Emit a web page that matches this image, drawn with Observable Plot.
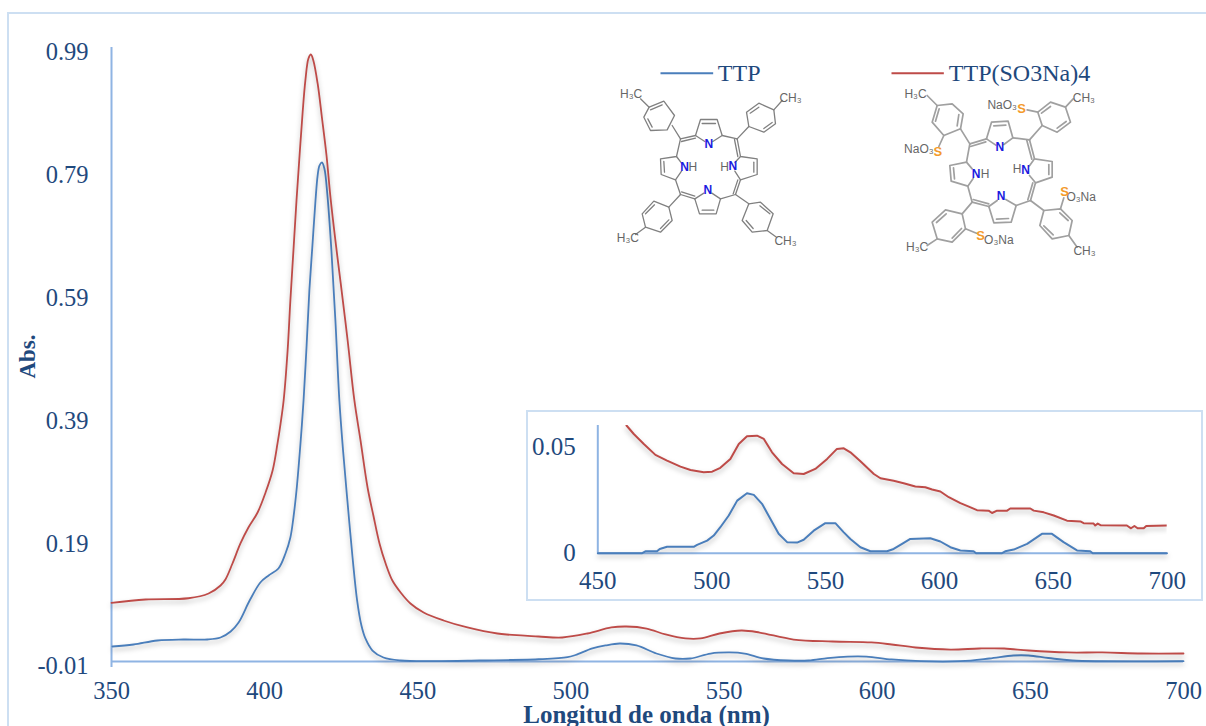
<!DOCTYPE html>
<html>
<head>
<meta charset="utf-8">
<script src="https://cdn.jsdelivr.net/npm/d3@7"></script>
<script src="https://cdn.jsdelivr.net/npm/@observablehq/plot@0.6"></script>
<style>
html,body{margin:0;padding:0;background:#fff}
#page{position:relative;width:1206px;height:726px;overflow:hidden;background:#fff}
#page svg{position:absolute;background:transparent;overflow:visible}
.outer{position:absolute;left:7px;top:12px;width:1300px;height:800px;border:2px solid #CDDFF2;box-sizing:border-box}
.inset{position:absolute;left:526px;top:410px;width:677px;height:191px;border:2px solid #CDDFF2;box-sizing:border-box;background:#fff}
</style>
</head>
<body>
<div id="page"><div class="outer"></div><div class="inset"></div></div>
<script>
const xTicks = [350,400,450,500,550,600,650,700];
const yTicks = [-0.01,0.19,0.39,0.59,0.79,0.99];
const insetXTicks = [450,500,550,600,650,700];
const insetYTicks = [0,0.05];

const redWl = [350,361.1,375.1,381.7,385.6,387.2,389.5,392.1,394.7,397.7,400.3,402.6,404.2,405.2,406.2,407.5,408.4,409.4,410.4,411.4,412.4,413.3,414.3,415.1,415.9,417.3,418.7,420.2,421.5,423.1,424.8,427.1,429.3,431.3,433.6,435.5,437.5,439.5,441.7,444.4,447.6,451.9,458.4,466.2,476,489.4,497.2,505.4,513.2,518.1,524.7,530.9,537.4,542.3,548.5,555.7,561.6,572.7,585.4,598.1,604.7,612.5,623.9,633.4,641.5,649.4,662.1,673.5,686.3,700];
const redAbs = [.0856,.091,.093,.1007,.1138,.1236,.1496,.1822,.2082,.2327,.2653,.3011,.3451,.3776,.4151,.4965,.578,.6594,.7408,.8141,.8842,.9363,.9721,.9786,.9688,.9314,.876,.8141,.7457,.6757,.6073,.5128,.4151,.35,.2734,.2278,.1822,.1496,.1219,.1024,.0845,.0698,.0568,.0454,.0356,.0307,.0291,.0356,.0454,.047,.0437,.034,.0275,.0275,.0356,.0405,.0372,.0258,.0226,.021,.0177,.0128,.0095,.0112,.0112,.0079,.0047,.0047,.003,.003];
const blueWl = [350.3,357.2,365,373.5,381.3,385.6,388.9,391.5,395.1,398.6,401.3,404.5,406.8,408.4,409.4,410.4,411.7,412.7,413.7,414.6,415.6,416.6,417.3,417.9,418.7,419.5,420.5,421.8,423.1,424.4,425.6,427.1,428.7,430.2,431.6,432.9,435.2,438.8,444.4,455.1,470.1,489.4,498.9,501.5,507,511.3,515.9,521.4,527.9,534.1,539,545.6,551.8,556.7,562.9,571,577.6,583.8,590.3,596.5,604.7,614.1,627.2,636.6,644.5,649.4,655.9,663.7,700];
const blueAbs = [.0144,.0177,.0242,.0258,.0258,.0291,.0389,.0535,.0893,.1187,.1301,.1415,.1659,.192,.2245,.2685,.3451,.4151,.5047,.5942,.6675,.7408,.7815,.7978,.8027,.793,.749,.6594,.5454,.4151,.3337,.2473,.1594,.0893,.0486,.0275,.0079,-.0035,-.0084,-.0095,-.0084,-.0063,-.003,.0006,.0112,.0161,.0193,.0161,.003,-.0051,-.0051,.003,.0047,.003,-.0051,-.0084,-.0084,-.0045,-.0019,-.0019,-.0067,-.0095,-.0095,-.0051,-.0002,-.0002,-.0043,-.0084,-.0095];

const insetRedWl = [462.6,465.8,470.2,475.3,480.4,486.3,490.7,496.5,500.2,503.8,508.2,511.9,515.5,519.9,522.9,526.5,530.9,536,540.4,545.5,550.7,555,558,560.9,565.3,571.2,574.1,579.9,584.3,589.4,593.8,596.8,600.4,604.1,609.2,612.9,616.5,621.6,623.1,625.3,629.7,631.1,639.9,641.4,645.8,650.2,656,661.9,663.3,667.7,668.4,669.5,670.9,682.3,684.1,685.6,687,689.7,690.8,699.9];
const insetRedAbs = [.06,.056,.0513,.0462,.0435,.0407,.0391,.038,.0383,.0401,.0443,.0513,.0549,.0552,.0537,.0474,.0419,.0376,.0372,.0396,.0443,.049,.0493,.0474,.0432,.0372,.0352,.034,.0329,.0313,.031,.0299,.029,.0263,.0235,.0219,.0202,.02,.0189,.02,.02,.021,.021,.02,.0192,.0177,.0153,.0149,.0141,.0139,.013,.0139,.0131,.013,.0117,.0128,.0117,.0117,.0128,.013];
const insetBlueWl = [450,469.5,470.9,476,477.2,480.4,492.1,493.6,498,500.9,503.8,507.5,511.2,515.5,518.5,522.1,525.8,529.4,533.1,537.5,540.4,544.8,549.9,554.3,557.9,560.9,565.3,569.7,577,579.9,583.6,587.2,596,600.4,604.8,609.2,615,616.1,627.5,628.9,632.6,638.5,645,649.4,654.5,660.4,666.2,667.3,699.9];
const insetBlueAbs = [0,0,.0009,.0009,.002,.003,.003,.0039,.0059,.0083,.0122,.0177,.0247,.0282,.0274,.0232,.0161,.0091,.0052,.005,.0063,.0106,.0141,.0141,.0099,.0067,.0028,.0009,.0009,.002,.0044,.0067,.007,.0055,.0028,.0013,.0009,0,0,.0009,.0017,.0044,.0091,.0091,.0052,.0013,.0009,0,0];

const legendNames = ["TTP","TTP(SO3Na)4"];
const xTitle = "Longitud de onda (nm)";
const yTitle = "Abs.";

const ttpPaths = [
 [[285,255],[300,207],[350,207],[365,255],[337,273]],[[285,255],[313,273]],[[305,219],[345,219]],
 [[240,265],[285,255]],[[243,273],[285,263]],[[365,255],[410,265]],
 [[240,265],[228,318],[180,325],[182,372],[225,388],[240,432]],[[228,318],[243,338]],[[225,388],[243,362]],[[190,333],[192,365]],
 [[240,432],[283,445]],[[243,424],[283,437]],[[283,445],[297,490],[347,490],[360,445],[405,432]],[[283,445],[310,428]],[[360,445],[334,428]],[[305,479],[340,479]],
 [[410,265],[420,318],[470,325],[470,372],[420,388],[405,432]],[[402,267],[412,318]],[[412,388],[398,430]],[[420,318],[403,336]],[[420,388],[403,362]],[[460,335],[460,365]],
 [[240,265],[215,225]],[[190,152],[222,195],[200,238],[150,240],[130,200],[146,170],[190,152]],[[146,170],[120,145]],[[150,178],[185,163]],[[142,205],[155,230]],
 [[410,265],[445,228]],[[445,228],[438,185],[475,158],[520,178],[525,220],[490,245],[445,228]],[[520,178],[545,150]],[[449,188],[475,170]],[[490,234],[515,216]],
 [[240,432],[205,470]],[[205,470],[160,452],[125,490],[135,530],[180,545],[215,510],[205,470]],[[135,530],[105,552]],[[162,463],[135,490]],[[180,534],[205,508]],
 [[405,432],[445,460]],[[445,460],[425,510],[455,545],[500,540],[518,490],[480,455],[445,460]],[[500,540],[528,560]],[[437,510],[458,534]],[[508,490],[478,466]]
];
const ttpLabels = [
 [325,280,"N","n"],[252,350,"N","n"],[397,348,"N","n"],[322,420,"N","n"],
 [277,351,"H","g"],[372,349,"H","g"],
 [92,130,"H₃C","g"],[570,142,"CH₃","g"],[82,562,"H₃C","g"],[555,572,"CH₃","g"]
];
const naPaths = [
 [[318,265],[333,215],[383,212],[397,262],[370,282]],[[318,265],[346,284]],[[340,226],[376,224]],
 [[268,280],[318,265]],[[270,288],[316,274]],[[397,262],[447,268]],
 [[268,280],[258,335],[208,345],[212,392],[262,407],[275,455]],[[258,335],[275,355]],[[262,407],[278,384]],[[219,352],[222,385]],
 [[275,455],[325,468]],[[278,447],[325,460]],[[325,468],[340,517],[392,515],[407,465],[450,450]],[[325,468],[350,450]],[[407,465],[376,447]],[[348,506],[384,504]],
 [[447,268],[462,325],[515,333],[515,380],[465,397],[450,450]],[[439,270],[454,326]],[[457,397],[442,448]],[[462,325],[447,346]],[[465,397],[447,375]],[[505,342],[505,372]],
 [[268,280],[240,235]],[[170,165],[215,160],[248,190],[240,235],[190,255],[155,215],[170,165]],[[170,165],[140,135]],[[235,192],[230,226]],[[165,212],[176,175]],
 [[190,255],[175,288]],
 [[447,268],[485,225]],[[485,225],[472,185],[510,155],[555,170],[570,215],[530,245],[485,225]],[[555,170],[578,145]],[[483,188],[510,168]],[[530,233],[557,213]],[[472,185],[440,178]],
 [[275,455],[245,490]],[[245,490],[195,478],[155,515],[170,565],[215,575],[255,535],[245,490]],[[170,565],[140,585]],[[197,490],[168,516]],[[215,563],[243,534]],[[255,535],[288,548]],
 [[450,450],[490,480]],[[490,480],[478,525],[515,565],[565,555],[575,510],[540,475],[490,480]],[[565,555],[590,590]],[[490,526],[518,553]],[[563,510],[538,487]],[[540,475],[550,442]]
];
const naLabels = [
 [358,290,"N","n"],[287,370,"N","n"],[435,360,"N","n"],[362,438,"N","n"],
 [314,372,"H","g"],[410,357,"H","g"],
 [105,130,"H₃C","g"],[610,142,"CH₃","g"],[110,590,"H₃C","g"],[612,602,"CH₃","g"],
 [115,295,"NaO₃","g"],[172,303,"S","s"],[365,165,"NaO₃","g"],[423,175,"S","s"],
 [300,555,"S","s"],[355,570,"O₃Na","g"],[552,425,"S","s"],[602,440,"O₃Na","g"]
];

const serif = "'Liberation Serif', serif";
const axisColor = "#8FB4E3", textColor = "#1F497D", blue = "#4A7EBB", red = "#BE4B48";
const zip = (a,b)=>a.map((v,i)=>({wl:v,abs:b[i]}));
const page = document.getElementById("page");
const shadow = sel => d3.select(sel).selectAll('g[aria-label="line"]')
  .style("filter","drop-shadow(0px 3px 2.5px rgba(0,0,0,0.28))");

const main = Plot.plot({
  width:1206,height:726,
  marginLeft:111,marginRight:23,marginTop:47,marginBottom:65,
  x:{domain:[350,700]},y:{domain:[-0.01,0.99]},
  style:{fontFamily:serif,fontSize:"24px",color:textColor,background:"transparent"},
  marks:[
    Plot.ruleX([350],{stroke:axisColor,strokeWidth:2,insetBottom:-6}),
    Plot.ruleY([-0.01],{stroke:axisColor,strokeWidth:2}),
    Plot.line(zip(blueWl,blueAbs),{x:"wl",y:"abs",stroke:blue,strokeWidth:1.8,curve:"catmull-rom"}),
    Plot.line(zip(redWl,redAbs),{x:"wl",y:"abs",stroke:red,strokeWidth:1.8,curve:"catmull-rom"}),
    Plot.axisX({ticks:xTicks,tickSize:0,tickPadding:20,tickFormat:d=>String(d),label:null,fill:textColor,fontSize:24.5}),
    Plot.axisY({ticks:yTicks,tickSize:0,tickPadding:23,tickFormat:d=>d.toFixed(2),label:null,dy:5,fill:textColor,fontSize:24.5})
  ]
});
main.style.left="0";main.style.top="0";
page.appendChild(main);
shadow(main);

const titles = Plot.plot({
  width:1206,height:726,margin:0,
  x:{domain:[0,1206]},y:{domain:[726,0]},axis:null,
  style:{background:"transparent",fontFamily:serif},
  marks:[
    Plot.text([xTitle],{x:()=>646,y:()=>714,fill:textColor,fontWeight:"bold",fontSize:25,fontFamily:serif}),
    Plot.text([yTitle],{x:()=>27,y:()=>356,rotate:-90,fill:textColor,fontWeight:"bold",fontSize:23,fontFamily:serif})
  ]
});
titles.style.left="0";titles.style.top="0";
page.appendChild(titles);

const inset = Plot.plot({
  width:1206,height:726,
  marginLeft:597.3,marginRight:39.3,marginTop:425,marginBottom:173.3,
  x:{domain:[450,700]},y:{domain:[0,0.06]},
  style:{fontFamily:serif,fontSize:"25px",color:textColor,background:"transparent"},
  marks:[
    Plot.ruleX([450],{stroke:axisColor,strokeWidth:2}),
    Plot.ruleY([0],{stroke:axisColor,strokeWidth:2}),
    Plot.line(zip(insetBlueWl,insetBlueAbs),{x:"wl",y:"abs",stroke:blue,strokeWidth:2}),
    Plot.line(zip(insetRedWl,insetRedAbs),{x:"wl",y:"abs",stroke:red,strokeWidth:2,clip:true}),
    Plot.axisX({ticks:insetXTicks,tickSize:0,tickPadding:18,tickFormat:d=>String(d),label:null,fill:textColor,fontSize:25}),
    Plot.axisY({ticks:insetYTicks,tickSize:0,tickPadding:22,tickFormat:d=>d===0?"0":d.toFixed(2),label:null,fill:textColor,fontSize:25})
  ]
});
inset.style.left="0";inset.style.top="0";
page.appendChild(inset);
shadow(inset);

function molecule(paths,labels,w,h,left,legendLine,legendX,name,color,bondColor,bondW){
  const pts = paths.flatMap((p,i)=>p.map(([x,y])=>({x,y,i})));
  const lab = labels.map(([x,y,t,k])=>({x,y,t,k}));
  const kinds = {g:"#666666",n:"#1A1AE0",s:"#F39A2B"};
  const svg = Plot.plot({
    width:w,height:h,margin:0,axis:null,
    x:{domain:[0,w*3]},y:{domain:[h*3,0]},
    style:{background:"transparent",overflow:"visible"},
    marks:[
      Plot.line(pts,{x:"x",y:"y",z:"i",stroke:bondColor,strokeWidth:bondW,curve:"linear"}),
      Plot.text(lab.filter(d=>d.k==="g"),{x:"x",y:"y",text:"t",fill:kinds.g,fontSize:12,fontFamily:"'Liberation Sans',sans-serif"}),
      Plot.text(lab.filter(d=>d.k==="n"),{x:"x",y:"y",text:"t",fill:kinds.n,fontSize:12,fontWeight:"bold",fontFamily:"'Liberation Sans',sans-serif"}),
      Plot.text(lab.filter(d=>d.k==="s"),{x:"x",y:"y",text:"t",fill:kinds.s,fontSize:13,fontWeight:"bold",fontFamily:"'Liberation Sans',sans-serif"}),
      Plot.link([legendLine],{x1:d=>d[0],x2:d=>d[1],y1:()=>68,y2:()=>68,stroke:color,strokeWidth:2}),
      Plot.text([name],{x:()=>legendX,y:()=>68,text:d=>d,fill:textColor,fontSize:24,fontFamily:serif,textAnchor:"start"})
    ]
  });
  d3.select(svg).selectAll('g[aria-label="line"]').style("filter","blur(0.35px)");
  svg.style.left=left+"px";svg.style.top="50px";
  page.appendChild(svg);
}
molecule(ttpPaths,ttpLabels,240,210,600,[180,338],352,legendNames[0],blue,"#808080",1.3);
molecule(naPaths,naLabels,240,220,880,[33,190],205,legendNames[1],red,"#a0a0a0",1.7);
</script>
</body>
</html>
